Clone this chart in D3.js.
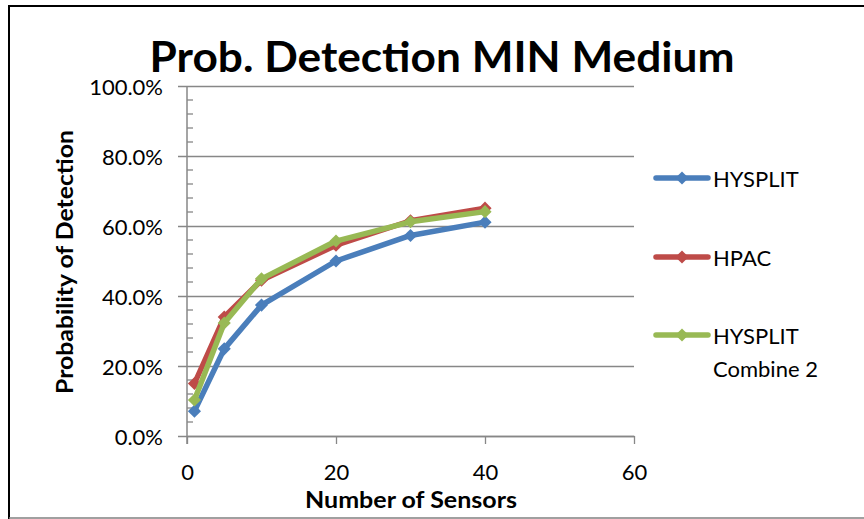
<!DOCTYPE html>
<html>
<head>
<meta charset="utf-8">
<script src="https://cdn.jsdelivr.net/npm/d3@7"></script>
<style>
  html, body { margin: 0; padding: 0; background: #fff; }
  svg { display: block; }
  text { font-family: Lato, "Open Sans", "Liberation Sans", sans-serif; fill: #000; }
</style>
</head>
<body>
<svg id="chart" width="864" height="519"></svg>
<script>
// Number of sensors placed
const sensors = [1, 5, 10, 20, 30, 40];

// Probability of detection per model (fraction)
const hysplit = [0.071, 0.249, 0.374, 0.500, 0.573, 0.611];
const hpac = [0.150, 0.340, 0.445, 0.545, 0.615, 0.651];
const hysplitCombine2 = [0.103, 0.323, 0.449, 0.557, 0.612, 0.641];

const seriesNames = ["HYSPLIT", "HPAC", "HYSPLIT Combine 2"];
const seriesColors = ["#4a7ebb", "#be4b48", "#98b954"];

const xTicks = [0, 20, 40, 60];
const yTicks = [0, 0.2, 0.4, 0.6, 0.8, 1.0];

const chartTitle = "Prob. Detection MIN Medium";
const xTitle = "Number of Sensors";
const yTitle = "Probability of Detection";

const series = [hysplit, hpac, hysplitCombine2].map((vals, i) => ({
  name: seriesNames[i],
  color: seriesColors[i],
  points: sensors.map((s, j) => ({ x: s, y: vals[j] }))
}));

const svg = d3.select("#chart");
const FONT = "Lato, 'Open Sans', sans-serif";

// Outer chart frame
svg.append("path")
  .attr("d", "M9,519 L9,6 L866,6")
  .attr("fill", "none").attr("stroke", "#000").attr("stroke-width", 2);
svg.append("line")
  .attr("x1", 9).attr("x2", 866).attr("y1", 518).attr("y2", 518)
  .attr("stroke", "#808080").attr("stroke-width", 1.5);

const plot = { left: 187, right: 634, top: 86, bottom: 436 };

const x = d3.scaleLinear().domain([0, 60]).range([plot.left, plot.right]);
const y = d3.scaleLinear().domain([0, 1]).range([plot.bottom, plot.top]);

const grid = "#878787";

// Horizontal gridlines with outward major ticks
const yAxis = d3.axisLeft(y)
  .tickValues(yTicks)
  .tickSize(-(plot.right - plot.left))
  .tickSizeOuter(0)
  .tickPadding(24)
  .tickFormat(d3.format(".1%"));
const gy = svg.append("g")
  .attr("transform", `translate(${plot.left},0)`)
  .call(yAxis);
gy.select(".domain").remove();
gy.selectAll(".tick line")
  .attr("x1", -9)
  .attr("stroke", grid).attr("stroke-width", 1.3);
gy.selectAll(".tick text")
  .attr("font-size", 22).attr("fill", "#000")
  .attr("font-family", FONT)
  .attr("dy", "0.4em");

// Minor ticks on the inside of the value axis
const minor = d3.range(0, 1.0001, 0.04).filter(v => Math.round(v * 100) % 20 !== 0);
svg.append("g").selectAll("line").data(minor).join("line")
  .attr("x1", plot.left).attr("x2", plot.left + 6)
  .attr("y1", d => y(d)).attr("y2", d => y(d))
  .attr("stroke", grid).attr("stroke-width", 1.3);

// Vertical value axis line
svg.append("line")
  .attr("x1", plot.left).attr("x2", plot.left)
  .attr("y1", plot.top).attr("y2", plot.bottom + 8)
  .attr("stroke", grid).attr("stroke-width", 1.5);

// Horizontal axis
const xAxis = d3.axisBottom(x).tickValues(xTicks).tickSize(8).tickSizeOuter(0).tickPadding(20);
const gx = svg.append("g")
  .attr("transform", `translate(0,${plot.bottom})`)
  .call(xAxis);
gx.select(".domain").attr("stroke", grid).attr("stroke-width", 1.5);
gx.selectAll(".tick line").attr("stroke", grid).attr("stroke-width", 1.3);
gx.selectAll(".tick text")
  .attr("font-size", 22).attr("fill", "#000")
  .attr("font-family", FONT);

// Series lines and diamond markers
const line = d3.line().x(d => x(d.x)).y(d => y(d.y));
const diamond = d3.symbol().type(d3.symbolDiamond2).size(110);

series.forEach(s => {
  const g = svg.append("g");
  g.append("path")
    .attr("d", line(s.points))
    .attr("fill", "none")
    .attr("stroke", s.color)
    .attr("stroke-width", 5.5)
    .attr("stroke-linejoin", "round")
    .attr("stroke-linecap", "round");
  g.selectAll("path.m").data(s.points).join("path")
    .attr("class", "m")
    .attr("d", diamond)
    .attr("transform", d => `translate(${x(d.x)},${y(d.y)})`)
    .attr("fill", s.color);
});

// Legend
const legendY = [178, 257, 335];
const lg = svg.append("g");
series.forEach((s, i) => {
  const ly = legendY[i];
  lg.append("line")
    .attr("x1", 656).attr("x2", 708)
    .attr("y1", ly).attr("y2", ly)
    .attr("stroke", s.color).attr("stroke-width", 5.5)
    .attr("stroke-linecap", "round");
  lg.append("path")
    .attr("d", diamond)
    .attr("transform", `translate(682,${ly})`)
    .attr("fill", s.color);
  const words = s.name === "HYSPLIT Combine 2" ? ["HYSPLIT", "Combine 2"] : [s.name];
  words.forEach((w, k) => {
    lg.append("text")
      .attr("x", 713).attr("y", ly + 9 + k * 33)
      .attr("font-size", 22)
      .text(w);
  });
});

// Chart title
svg.append("text")
  .attr("x", 442).attr("y", 72)
  .attr("text-anchor", "middle")
  .attr("font-size", 42).attr("font-weight", 700)
  .attr("textLength", 585).attr("lengthAdjust", "spacingAndGlyphs")
  .text(chartTitle);

// Axis titles
svg.append("text")
  .attr("x", 411).attr("y", 508)
  .attr("text-anchor", "middle")
  .attr("font-size", 23).attr("font-weight", 700)
  .attr("textLength", 212).attr("lengthAdjust", "spacingAndGlyphs")
  .text(xTitle);

svg.append("text")
  .attr("transform", `translate(73,262) rotate(-90)`)
  .attr("text-anchor", "middle")
  .attr("font-size", 22).attr("font-weight", 700)
  .attr("textLength", 264).attr("lengthAdjust", "spacingAndGlyphs")
  .text(yTitle);
</script>
</body>
</html>
